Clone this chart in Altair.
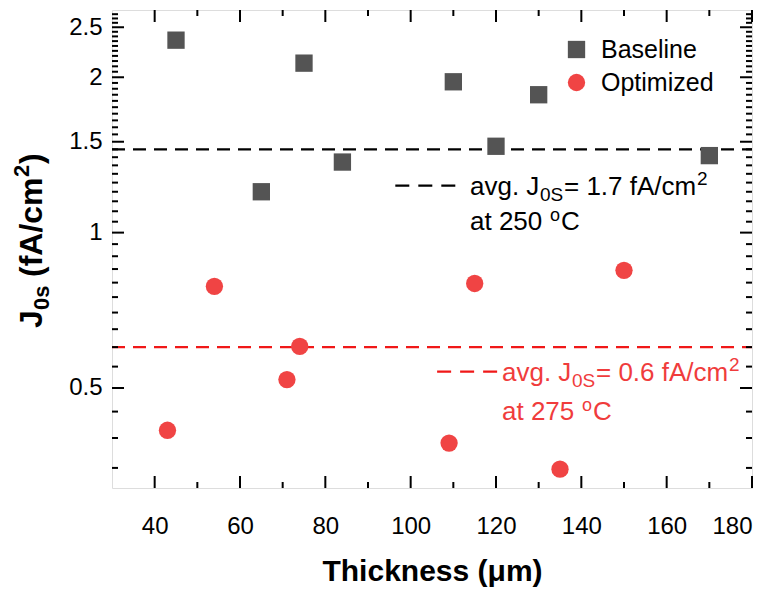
import altair as alt
import pandas as pd

# ---- data ----
base_x = [45, 65, 75, 84, 110, 120, 130, 170]
base_y = [2.36, 1.20, 2.13, 1.37, 1.96, 1.47, 1.85, 1.41]
opt_x = [43, 54, 71, 74, 109, 115, 135, 150]
opt_y = [0.414, 0.787, 0.519, 0.602, 0.391, 0.797, 0.348, 0.845]
series = ["Baseline", "Optimized"]
colors = ["#545454", "#f04444"]
avg_lines = [1.45, 0.60]
avg_colors = ["black", "#f01818"]
text_colors = ["black", "#f03c3c"]
avg_values = ["1.7", "0.6"]
avg_temps = ["250", "275"]

x_major = [40, 60, 80, 100, 120, 140, 160, 180]
x_minor = [50, 70, 90, 110, 130, 150, 170]
y_major = [0.5, 1, 1.5, 2, 2.5]
y_minor = [0.35, 0.4, 0.45, 0.55, 0.6, 0.65, 0.7, 0.75, 0.8, 0.85, 0.9, 0.95,
           1.05, 1.1, 1.15, 1.2, 1.25, 1.3, 1.35, 1.4, 1.45,
           1.55, 1.6, 1.65, 1.7, 1.75, 1.8, 1.85, 1.9, 1.95,
           2.05, 2.1, 2.15, 2.2, 2.25, 2.3, 2.35, 2.4, 2.45,
           2.55, 2.6, 2.65]

W, H = 640, 478
FONT = "Liberation Sans"
xs = alt.Scale(domain=[30, 180], nice=False, zero=False)
ys = alt.Scale(type="log", domain=[0.32, 2.7], nice=False)

pts = pd.DataFrame({
    "t": base_x + opt_x,
    "j": base_y + opt_y,
    "s": [series[0]] * len(base_x) + [series[1]] * len(opt_x),
})

points = alt.Chart(pts).mark_point(filled=True, opacity=1, size=300).encode(
    x=alt.X("t:Q", scale=xs,
            axis=alt.Axis(values=x_major, title="Thickness (μm)", tickSize=0, domain=False,
                          grid=False, labelPadding=26, labelFontSize=24, labelFont=FONT,
                          labelColor="black", titleFont=FONT, titleFontSize=30,
                          titleFontWeight="bold", titleColor="black", titlePadding=18)),
    y=alt.Y("j:Q", scale=ys,
            axis=alt.Axis(values=y_major, title=None, tickSize=0, domain=False, grid=False,
                          labelPadding=10, labelFontSize=24, labelFont=FONT, labelColor="black",
                          format="~g")),
    color=alt.Color("s:N", scale=alt.Scale(domain=series, range=colors),
                    legend=alt.Legend(title=None, orient="none", legendX=452, legendY=27,
                                      labelFontSize=25, labelFont=FONT, labelColor="black",
                                      symbolSize=300, symbolOpacity=1, rowPadding=7,
                                      labelOffset=12, padding=0)),
    shape=alt.Shape("s:N", scale=alt.Scale(domain=series, range=["square", "circle"]), legend=None),
)

hl = pd.DataFrame({"j": avg_lines, "c": avg_colors})
hlines = alt.Chart(hl).mark_rule(strokeDash=[13, 8], strokeWidth=2.2).encode(
    y=alt.Y("j:Q", scale=ys),
    x=alt.value(0), x2=alt.value(W),
    color=alt.Color("c:N", scale=None),
)

# short dash samples in the annotations
sd = pd.DataFrame({"x1": [96.4, 106.2], "x2": [111.6, 120.3], "j": [1.233, 0.538], "c": avg_colors})
short = alt.Chart(sd).mark_rule(strokeDash=[14, 9], strokeWidth=2.2).encode(
    x=alt.X("x1:Q", scale=xs), x2="x2:Q", y=alt.Y("j:Q", scale=ys),
    color=alt.Color("c:N", scale=None),
)


def piece(x, j, dx, dy, size, color, text):
    df = pd.DataFrame({"t": [x], "j": [j], "txt": [text]})
    return alt.Chart(df).mark_text(align="left", baseline="alphabetic", dx=dx, dy=dy,
                                   fontSize=size, font=FONT, color=color).encode(
        x=alt.X("t:Q", scale=xs), y=alt.Y("j:Q", scale=ys), text="txt:N")


def annotation(x, j, j2, val, temp, color):
    return [
        piece(x, j, 0, 0, 26, color, "avg. J"),
        piece(x, j, 70, 6, 19, color, "0S"),
        piece(x, j, 94, 0, 26, color, "= " + val + " fA/cm"),
        piece(x, j, 227, -10, 19, color, "2"),
        piece(x, j2, 0, 0, 26, color, "at " + temp),
        piece(x, j2, 80, -9, 18, color, "o"),
        piece(x, j2, 91, 0, 26, color, "C"),
    ]


ann_layers = annotation(113.9, 1.183, 1.012, avg_values[0], avg_temps[0], text_colors[0]) + \
    annotation(121.4, 0.516, 0.433, avg_values[1], avg_temps[1], text_colors[1])


# inward ticks on all four sides
def yticks(vals, length):
    d = pd.DataFrame({"j": vals})
    l = alt.Chart(d).mark_rule(color="black", strokeWidth=2).encode(
        y=alt.Y("j:Q", scale=ys), x=alt.value(0), x2=alt.value(length))
    r = alt.Chart(d).mark_rule(color="black", strokeWidth=2).encode(
        y=alt.Y("j:Q", scale=ys), x=alt.value(W), x2=alt.value(W - length))
    return [l, r]


def xticks(vals, length):
    d = pd.DataFrame({"t": vals})
    b = alt.Chart(d).mark_rule(color="black", strokeWidth=2).encode(
        x=alt.X("t:Q", scale=xs), y=alt.value(H), y2=alt.value(H - length))
    t = alt.Chart(d).mark_rule(color="black", strokeWidth=2).encode(
        x=alt.X("t:Q", scale=xs), y=alt.value(0), y2=alt.value(length))
    return [b, t]


ticks = yticks(y_major, 12) + yticks(y_minor, 6) + xticks(x_major, 12) + xticks(x_minor, 6)


# rotated y-axis title with subscript and superscript
def ypiece(dx, dy, size, text):
    df = pd.DataFrame({"txt": [text]})
    return alt.Chart(df).mark_text(align="left", baseline="alphabetic", angle=270, dx=dx, dy=dy,
                                   fontSize=size, font=FONT, fontWeight="bold",
                                   color="black").encode(
        x=alt.value(-70), y=alt.value(318), text="txt:N")


ytitle = [ypiece(0, 0, 32, "J"), ypiece(18, 7, 22, "0s"), ypiece(51, 0, 32, "(fA/cm"),
          ypiece(151, -13, 22, "2"), ypiece(164, 0, 32, ")")]

chart = alt.layer(hlines, short, *ticks, points, *ann_layers, *ytitle).properties(
    width=W, height=H,
    autosize=alt.AutoSizeParams(type="none"),
    padding={"left": 104, "top": 2, "right": 16, "bottom": 100},
).configure_view(stroke="black", strokeWidth=2).configure(background="white")

chart.save("out.html", embed_options={"renderer": "svg", "actions": False})
